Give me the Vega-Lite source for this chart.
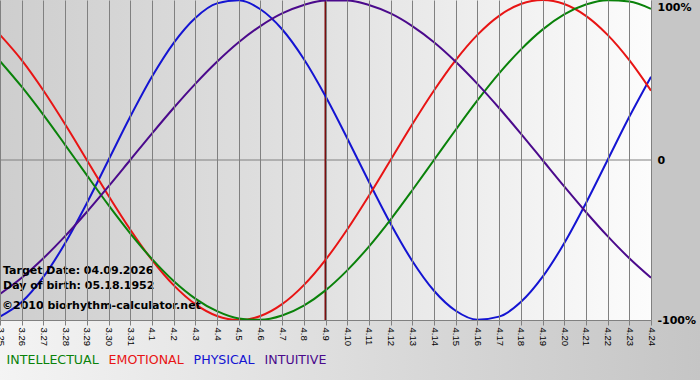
{
  "$schema": "https://vega.github.io/schema/vega-lite/v6.json",
  "width": 651,
  "height": 320,
  "autosize": {"type": "none"},
  "padding": {"left": 0, "top": 0, "right": 49, "bottom": 60},
  "background": "#c6c6c6",
  "config": {
    "view": {
      "stroke": null,
      "fill": {"gradient": "linear", "x1": 0, "y1": 0, "x2": 1, "y2": 0,
        "stops": [{"offset": 0, "color": "#cecece"}, {"offset": 0.5, "color": "#e2e2e2"}, {"offset": 1, "color": "#fcfcfc"}]}
    }
  },
  "layer": [
    {
      "data": {"values": [{}]},
      "mark": {"type": "rect", "clip": false,
        "fill": {"gradient": "linear", "x1": 0, "y1": 0, "x2": 1, "y2": 0,
          "stops": [{"offset": 0, "color": "#f4f4f4"}, {"offset": 1, "color": "#c4c4c4"}]}},
      "encoding": {
        "x": {"datum": {"year": 2026, "month": 3, "date": 24, "hours": 22, "utc": true}},
        "x2": {"datum": {"year": 2026, "month": 4, "date": 27, "utc": true}},
        "y": {"datum": -1.006},
        "y2": {"datum": -1.9}
      }
    },
    {
      "data": {"values": [{}]},
      "mark": {"type": "rule", "color": "#808080", "strokeWidth": 1},
      "encoding": {"y": {"datum": 0}}
    },
    {
      "data": {"values": [{}]},
      "mark": {"type": "rule", "color": "#7a0f0f", "strokeWidth": 2},
      "encoding": {"x": {"datum": {"year": 2026, "month": 4, "date": 9, "utc": true}}}
    },
    {
      "data": {"values": [
        {"d": "2026-03-25", "s": "PHYSICAL", "v": -0.979},
        {"d": "2026-03-26", "s": "PHYSICAL", "v": -0.888},
        {"d": "2026-03-27", "s": "PHYSICAL", "v": -0.731},
        {"d": "2026-03-28", "s": "PHYSICAL", "v": -0.520},
        {"d": "2026-03-29", "s": "PHYSICAL", "v": -0.270},
        {"d": "2026-03-30", "s": "PHYSICAL", "v": 0.0},
        {"d": "2026-03-31", "s": "PHYSICAL", "v": 0.270},
        {"d": "2026-04-01", "s": "PHYSICAL", "v": 0.520},
        {"d": "2026-04-02", "s": "PHYSICAL", "v": 0.731},
        {"d": "2026-04-03", "s": "PHYSICAL", "v": 0.888},
        {"d": "2026-04-04", "s": "PHYSICAL", "v": 0.979},
        {"d": "2026-04-05", "s": "PHYSICAL", "v": 0.998},
        {"d": "2026-04-06", "s": "PHYSICAL", "v": 0.942},
        {"d": "2026-04-07", "s": "PHYSICAL", "v": 0.817},
        {"d": "2026-04-08", "s": "PHYSICAL", "v": 0.631},
        {"d": "2026-04-09", "s": "PHYSICAL", "v": 0.398},
        {"d": "2026-04-10", "s": "PHYSICAL", "v": 0.136},
        {"d": "2026-04-11", "s": "PHYSICAL", "v": -0.136},
        {"d": "2026-04-12", "s": "PHYSICAL", "v": -0.398},
        {"d": "2026-04-13", "s": "PHYSICAL", "v": -0.631},
        {"d": "2026-04-14", "s": "PHYSICAL", "v": -0.817},
        {"d": "2026-04-15", "s": "PHYSICAL", "v": -0.942},
        {"d": "2026-04-16", "s": "PHYSICAL", "v": -0.998},
        {"d": "2026-04-17", "s": "PHYSICAL", "v": -0.979},
        {"d": "2026-04-18", "s": "PHYSICAL", "v": -0.888},
        {"d": "2026-04-19", "s": "PHYSICAL", "v": -0.731},
        {"d": "2026-04-20", "s": "PHYSICAL", "v": -0.520},
        {"d": "2026-04-21", "s": "PHYSICAL", "v": -0.270},
        {"d": "2026-04-22", "s": "PHYSICAL", "v": 0.0},
        {"d": "2026-04-23", "s": "PHYSICAL", "v": 0.270},
        {"d": "2026-04-24", "s": "PHYSICAL", "v": 0.520},

        {"d": "2026-03-25", "s": "EMOTIONAL", "v": 0.782},
        {"d": "2026-03-26", "s": "EMOTIONAL", "v": 0.624},
        {"d": "2026-03-27", "s": "EMOTIONAL", "v": 0.434},
        {"d": "2026-03-28", "s": "EMOTIONAL", "v": 0.223},
        {"d": "2026-03-29", "s": "EMOTIONAL", "v": 0.0},
        {"d": "2026-03-30", "s": "EMOTIONAL", "v": -0.223},
        {"d": "2026-03-31", "s": "EMOTIONAL", "v": -0.434},
        {"d": "2026-04-01", "s": "EMOTIONAL", "v": -0.624},
        {"d": "2026-04-02", "s": "EMOTIONAL", "v": -0.782},
        {"d": "2026-04-03", "s": "EMOTIONAL", "v": -0.901},
        {"d": "2026-04-04", "s": "EMOTIONAL", "v": -0.975},
        {"d": "2026-04-05", "s": "EMOTIONAL", "v": -1.0},
        {"d": "2026-04-06", "s": "EMOTIONAL", "v": -0.975},
        {"d": "2026-04-07", "s": "EMOTIONAL", "v": -0.901},
        {"d": "2026-04-08", "s": "EMOTIONAL", "v": -0.782},
        {"d": "2026-04-09", "s": "EMOTIONAL", "v": -0.624},
        {"d": "2026-04-10", "s": "EMOTIONAL", "v": -0.434},
        {"d": "2026-04-11", "s": "EMOTIONAL", "v": -0.223},
        {"d": "2026-04-12", "s": "EMOTIONAL", "v": 0.0},
        {"d": "2026-04-13", "s": "EMOTIONAL", "v": 0.223},
        {"d": "2026-04-14", "s": "EMOTIONAL", "v": 0.434},
        {"d": "2026-04-15", "s": "EMOTIONAL", "v": 0.624},
        {"d": "2026-04-16", "s": "EMOTIONAL", "v": 0.782},
        {"d": "2026-04-17", "s": "EMOTIONAL", "v": 0.901},
        {"d": "2026-04-18", "s": "EMOTIONAL", "v": 0.975},
        {"d": "2026-04-19", "s": "EMOTIONAL", "v": 1.0},
        {"d": "2026-04-20", "s": "EMOTIONAL", "v": 0.975},
        {"d": "2026-04-21", "s": "EMOTIONAL", "v": 0.901},
        {"d": "2026-04-22", "s": "EMOTIONAL", "v": 0.782},
        {"d": "2026-04-23", "s": "EMOTIONAL", "v": 0.624},
        {"d": "2026-04-24", "s": "EMOTIONAL", "v": 0.434},

        {"d": "2026-03-25", "s": "INTELLECTUAL", "v": 0.618},
        {"d": "2026-03-26", "s": "INTELLECTUAL", "v": 0.458},
        {"d": "2026-03-27", "s": "INTELLECTUAL", "v": 0.282},
        {"d": "2026-03-28", "s": "INTELLECTUAL", "v": 0.095},
        {"d": "2026-03-29", "s": "INTELLECTUAL", "v": -0.095},
        {"d": "2026-03-30", "s": "INTELLECTUAL", "v": -0.282},
        {"d": "2026-03-31", "s": "INTELLECTUAL", "v": -0.458},
        {"d": "2026-04-01", "s": "INTELLECTUAL", "v": -0.618},
        {"d": "2026-04-02", "s": "INTELLECTUAL", "v": -0.756},
        {"d": "2026-04-03", "s": "INTELLECTUAL", "v": -0.866},
        {"d": "2026-04-04", "s": "INTELLECTUAL", "v": -0.945},
        {"d": "2026-04-05", "s": "INTELLECTUAL", "v": -0.990},
        {"d": "2026-04-06", "s": "INTELLECTUAL", "v": -0.999},
        {"d": "2026-04-07", "s": "INTELLECTUAL", "v": -0.972},
        {"d": "2026-04-08", "s": "INTELLECTUAL", "v": -0.910},
        {"d": "2026-04-09", "s": "INTELLECTUAL", "v": -0.815},
        {"d": "2026-04-10", "s": "INTELLECTUAL", "v": -0.690},
        {"d": "2026-04-11", "s": "INTELLECTUAL", "v": -0.541},
        {"d": "2026-04-12", "s": "INTELLECTUAL", "v": -0.372},
        {"d": "2026-04-13", "s": "INTELLECTUAL", "v": -0.189},
        {"d": "2026-04-14", "s": "INTELLECTUAL", "v": 0.0},
        {"d": "2026-04-15", "s": "INTELLECTUAL", "v": 0.189},
        {"d": "2026-04-16", "s": "INTELLECTUAL", "v": 0.372},
        {"d": "2026-04-17", "s": "INTELLECTUAL", "v": 0.541},
        {"d": "2026-04-18", "s": "INTELLECTUAL", "v": 0.690},
        {"d": "2026-04-19", "s": "INTELLECTUAL", "v": 0.815},
        {"d": "2026-04-20", "s": "INTELLECTUAL", "v": 0.910},
        {"d": "2026-04-21", "s": "INTELLECTUAL", "v": 0.972},
        {"d": "2026-04-22", "s": "INTELLECTUAL", "v": 0.999},
        {"d": "2026-04-23", "s": "INTELLECTUAL", "v": 0.990},
        {"d": "2026-04-24", "s": "INTELLECTUAL", "v": 0.945},

        {"d": "2026-03-25", "s": "INTUITIVE", "v": -0.837},
        {"d": "2026-03-26", "s": "INTUITIVE", "v": -0.736},
        {"d": "2026-03-27", "s": "INTUITIVE", "v": -0.614},
        {"d": "2026-03-28", "s": "INTUITIVE", "v": -0.476},
        {"d": "2026-03-29", "s": "INTUITIVE", "v": -0.325},
        {"d": "2026-03-30", "s": "INTUITIVE", "v": -0.165},
        {"d": "2026-03-31", "s": "INTUITIVE", "v": 0.0},
        {"d": "2026-04-01", "s": "INTUITIVE", "v": 0.165},
        {"d": "2026-04-02", "s": "INTUITIVE", "v": 0.325},
        {"d": "2026-04-03", "s": "INTUITIVE", "v": 0.476},
        {"d": "2026-04-04", "s": "INTUITIVE", "v": 0.614},
        {"d": "2026-04-05", "s": "INTUITIVE", "v": 0.736},
        {"d": "2026-04-06", "s": "INTUITIVE", "v": 0.837},
        {"d": "2026-04-07", "s": "INTUITIVE", "v": 0.916},
        {"d": "2026-04-08", "s": "INTUITIVE", "v": 0.969},
        {"d": "2026-04-09", "s": "INTUITIVE", "v": 0.997},
        {"d": "2026-04-10", "s": "INTUITIVE", "v": 0.997},
        {"d": "2026-04-11", "s": "INTUITIVE", "v": 0.969},
        {"d": "2026-04-12", "s": "INTUITIVE", "v": 0.916},
        {"d": "2026-04-13", "s": "INTUITIVE", "v": 0.837},
        {"d": "2026-04-14", "s": "INTUITIVE", "v": 0.736},
        {"d": "2026-04-15", "s": "INTUITIVE", "v": 0.614},
        {"d": "2026-04-16", "s": "INTUITIVE", "v": 0.476},
        {"d": "2026-04-17", "s": "INTUITIVE", "v": 0.325},
        {"d": "2026-04-18", "s": "INTUITIVE", "v": 0.165},
        {"d": "2026-04-19", "s": "INTUITIVE", "v": 0.0},
        {"d": "2026-04-20", "s": "INTUITIVE", "v": -0.165},
        {"d": "2026-04-21", "s": "INTUITIVE", "v": -0.325},
        {"d": "2026-04-22", "s": "INTUITIVE", "v": -0.476},
        {"d": "2026-04-23", "s": "INTUITIVE", "v": -0.614},
        {"d": "2026-04-24", "s": "INTUITIVE", "v": -0.736}
      ]},
      "mark": {"type": "line", "interpolate": "monotone", "strokeWidth": 2},
      "encoding": {
        "x": {
          "field": "d", "type": "temporal",
          "scale": {"type": "utc", "nice": false,
            "domain": [{"year": 2026, "month": 3, "date": 25, "utc": true}, {"year": 2026, "month": 4, "date": 24, "utc": true}]},
          "axis": {
            "title": null, "zindex": 1,
            "labelExpr": "utcFormat(datum.value, '%-m.%-d')",
            "tickCount": {"interval": "day", "step": 1},
            "labelAngle": 90, "labelFont": "Liberation Sans", "labelFontSize": 9.5, "labelColor": "#000000",
            "labelOverlap": false, "labelBound": false, "labelFlush": false, "labelPadding": 2,
            "grid": true, "gridColor": "#808080", "gridOpacity": 1, "gridWidth": 1,
            "tickColor": "#808080", "tickSize": 5, "domainColor": "#808080", "domainWidth": 1
          }
        },
        "y": {
          "field": "v", "type": "quantitative",
          "scale": {"domain": [-1, 1], "nice": false},
          "axis": {
            "orient": "right", "title": null, "values": [1, 0, -1], "zindex": 1,
            "labelExpr": "datum.value == 0 ? '0' : (datum.value > 0 ? '100%' : '-100%')",
            "grid": false, "ticks": false, "domain": false,
            "labelFont": "DejaVu Sans", "labelFontWeight": "bold", "labelFontSize": 11, "labelColor": "#000000",
            "labelPadding": 6, "labelBound": false, "labelFlush": false,
            "labelOffset": {"condition": {"test": "datum.value == 1", "value": 7}, "value": 0}
          }
        },
        "color": {
          "field": "s", "type": "nominal",
          "scale": {"domain": ["INTELLECTUAL", "EMOTIONAL", "PHYSICAL", "INTUITIVE"],
                    "range": ["#0a820a", "#e81414", "#1414d2", "#4b0a8c"]},
          "legend": {
            "title": null, "orient": "none", "legendX": 7, "legendY": 354,
            "direction": "horizontal", "columns": 4, "columnPadding": 9,
            "symbolSize": 0.01, "symbolStrokeWidth": 0, "symbolOpacity": 0, "labelOffset": -13,
            "labelFont": "DejaVu Sans", "labelFontSize": 12.6, "labelLimit": 300,
            "encode": {"labels": {"update": {"fill": {"scale": "color", "field": "value"}}}}
          }
        }
      }
    },
    {
      "data": {"values": [{}]},
      "mark": {"type": "text", "align": "left", "baseline": "middle", "dx": 3, "font": "DejaVu Sans", "fontWeight": "bold", "fontSize": 11, "color": "#000000"},
      "encoding": {
        "x": {"datum": {"year": 2026, "month": 3, "date": 25, "utc": true}},
        "y": {"datum": -0.695},
        "text": {"value": "Target Date: 04.09.2026"}
      }
    },
    {
      "data": {"values": [{}]},
      "mark": {"type": "text", "align": "left", "baseline": "middle", "dx": 3, "font": "DejaVu Sans", "fontWeight": "bold", "fontSize": 11, "color": "#000000"},
      "encoding": {
        "x": {"datum": {"year": 2026, "month": 3, "date": 25, "utc": true}},
        "y": {"datum": -0.79},
        "text": {"value": "Day of birth: 05.18.1952"}
      }
    },
    {
      "data": {"values": [{}]},
      "mark": {"type": "text", "align": "left", "baseline": "middle", "dx": 2, "font": "DejaVu Sans", "fontWeight": "bold", "fontSize": 11, "color": "#000000"},
      "encoding": {
        "x": {"datum": {"year": 2026, "month": 3, "date": 25, "utc": true}},
        "y": {"datum": -0.915},
        "text": {"value": "©2010 biorhythm-calculator.net"}
      }
    }
  ]
}
